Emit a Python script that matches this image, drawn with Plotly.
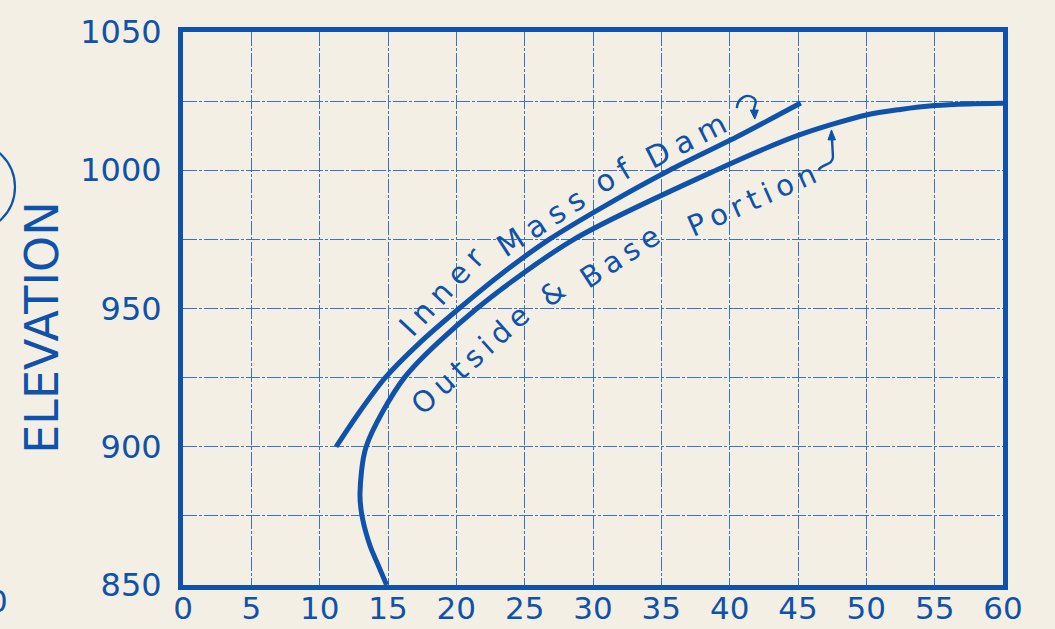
import plotly.graph_objects as go

# ---- data ----
inner_x = [11.2, 12.9, 14.8, 17.3, 20.2, 23.3, 26.8, 31.0, 35.6, 40.5, 45.2]
inner_elev = [900, 912.5, 925, 937.5, 950, 962.5, 975, 987.5, 1000, 1012, 1024.3]

outer_x = [14.9, 14.3, 13.7, 13.1, 12.95, 13.4, 16.2, 21.5, 28.6, 39.0, 45.0, 50.0, 52.5, 55.0, 57.5, 60.0]
outer_elev = [850, 857, 864, 875, 883, 900, 925, 950, 975, 1000, 1012.6, 1020.0, 1022.0, 1023.4, 1024.0, 1024.2]

x_ticks = list(range(0, 61, 5))
y_ticks = [850, 875, 900, 925, 950, 975, 1000, 1025, 1050]
y_ticktext = ["850", "", "900", "", "950", "", "1000", "", "1050"]

BLUE = "#0E52AC"
GRID = "#3F73C2"
BG = "#F4EFE4"
FONT = "DejaVu Sans"
SP = "\u2005"   # four-per-em space used as letter spacing
TS = "\u2009"   # thin space

def spaced(word, sep):
    return sep.join(list(word))

fig = go.Figure()
fig.add_trace(go.Scatter(x=inner_x, y=inner_elev, mode="lines",
                         line=dict(color=BLUE, width=5, shape="spline", smoothing=0.8),
                         name="Inner Mass of Dam", hoverinfo="x+y"))
fig.add_trace(go.Scatter(x=outer_x, y=outer_elev, mode="lines",
                         line=dict(color=BLUE, width=5, shape="spline", smoothing=0.8),
                         name="Outside & Base Portion", hoverinfo="x+y"))

annotations = []
# curved labels, word by word
inner_words = [("Inner", 18.95, 956.0, -47), ("Mass", 26.2, 981.0, -33),
               ("of", 31.45, 998.2, -31), ("Dam", 36.8, 1010.9, -27)]
outer_words = [("Outside", 21.0, 931.4, -42), ("&", 27.07, 955.6, -38),
               ("Base", 31.97, 968.6, -33), ("Portion", 41.63, 989.2, -24)]
for w, x, y, a in inner_words:
    annotations.append(dict(x=x, y=y, xref="x", yref="y", text=spaced(w, SP), showarrow=False,
                            textangle=a, font=dict(family=FONT, size=30, color=BLUE),
                            xanchor="center", yanchor="middle"))
for w, x, y, a in outer_words:
    annotations.append(dict(x=x, y=y, xref="x", yref="y", text=spaced(w, TS), showarrow=False,
                            textangle=a, font=dict(family=FONT, size=29, color=BLUE),
                            xanchor="center", yanchor="middle"))

# axis title
annotations.append(dict(x=-0.172, y=0.465, xref="paper", yref="paper", text="ELEVATION",
                        showarrow=False, textangle=-90,
                        font=dict(family=FONT, size=46, color=BLUE),
                        xanchor="center", yanchor="middle"))
# partial character at the left page edge
annotations.append(dict(x=-0.2256, y=-0.029, xref="paper", yref="paper", text="0",
                        showarrow=False, font=dict(family=FONT, size=31, color=BLUE),
                        xanchor="center", yanchor="middle"))

shapes = [
    # curly arrow from "Dam" to inner curve
    dict(type="path", xref="x", yref="y", xsizemode="pixel", ysizemode="pixel",
         xanchor=41.84, yanchor=1018.5,
         path="M -18,11 C -17,22 -7,26 -1,21 C 4,17 -2,13 -1,7",
         line=dict(color=BLUE, width=2.4)),
    dict(type="path", xref="x", yref="y", xsizemode="pixel", ysizemode="pixel",
         xanchor=41.84, yanchor=1018.5,
         path="M -4.5,9 L 0,0 L 3.5,9 Z", fillcolor=BLUE, line=dict(color=BLUE, width=1)),
    # curly arrow from "Portion" to outer curve
    dict(type="path", xref="x", yref="y", xsizemode="pixel", ysizemode="pixel",
         xanchor=47.45, yanchor=1014.6,
         path="M -13,-40 C -8,-33 1,-36 1.5,-27 L 0.5,-9",
         line=dict(color=BLUE, width=2.4)),
    dict(type="path", xref="x", yref="y", xsizemode="pixel", ysizemode="pixel",
         xanchor=47.45, yanchor=1014.6,
         path="M -3.5,-10 L 0,0 L 4,-10 Z", fillcolor=BLUE, line=dict(color=BLUE, width=1)),
    # partial circle at left page edge
    dict(type="circle", xref="paper", yref="paper", x0=-0.3146, x1=-0.2049,
         y0=0.6383, y1=0.8011, line=dict(color=BLUE, width=2.2)),
]

fig.update_layout(
    width=1055, height=629,
    margin=dict(l=183, r=52, t=32, b=44, autoexpand=False),
    paper_bgcolor=BG, plot_bgcolor=BG,
    showlegend=False,
    annotations=annotations,
    shapes=shapes,
    font=dict(family=FONT, color=BLUE),
)
fig.update_xaxes(range=[0, 60], tickvals=x_ticks, ticktext=[str(v) for v in x_ticks],
                 automargin=False,
                 showgrid=True, gridcolor=GRID, gridwidth=1.3, griddash="14px,2px,3px,2px",
                 showline=True, linecolor=BLUE, linewidth=5, mirror=True,
                 zeroline=False, ticks="", ticklabelstandoff=-8,
                 tickfont=dict(family=FONT, size=31, color=BLUE))
fig.update_yaxes(range=[850, 1050], tickvals=y_ticks, ticktext=y_ticktext,
                 automargin=False,
                 showgrid=True, gridcolor=GRID, gridwidth=1.3, griddash="14px,2px,3px,2px",
                 showline=True, linecolor=BLUE, linewidth=5, mirror=True,
                 zeroline=False, ticks="", ticklabelstandoff=10,
                 tickfont=dict(family=FONT, size=32, color=BLUE))

page_css = ("document.body.style.margin='0px';"
            "document.body.style.overflow='hidden';"
            "document.body.style.backgroundColor='" + BG + "';")
fig.write_html("out.html", post_script=page_css, config={"displayModeBar": False})
